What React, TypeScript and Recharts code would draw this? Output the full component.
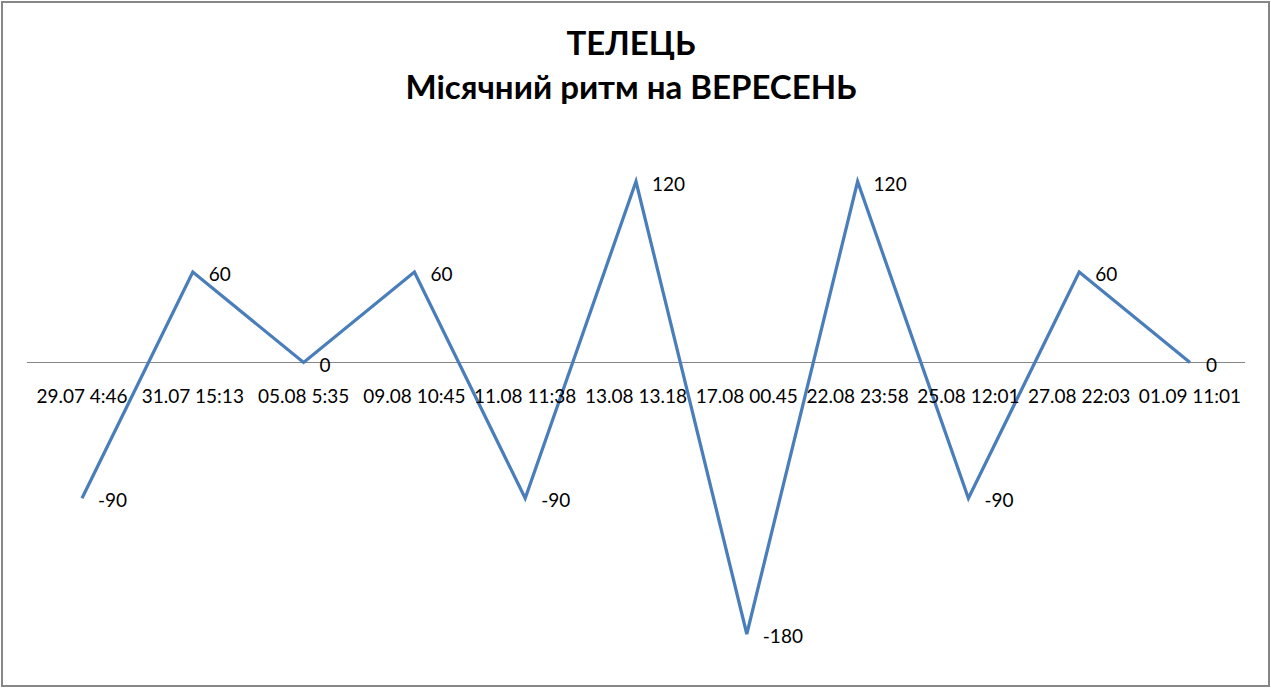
import React from "react";
import { LineChart, Line, XAxis, YAxis, ReferenceLine, LabelList } from "recharts";

const dates = [
  "29.07 4:46",
  "31.07 15:13",
  "05.08 5:35",
  "09.08 10:45",
  "11.08 11:38",
  "13.08 13.18",
  "17.08 00.45",
  "22.08 23:58",
  "25.08 12:01",
  "27.08 22:03",
  "01.09 11:01",
];
const rhythm = [-90, 60, 0, 60, -90, 120, -180, 120, -90, 60, 0];

const titleLines = ["ТЕЛЕЦЬ", "Місячний ритм на ВЕРЕСЕНЬ"];

const Y_MIN = -180;
const Y_MAX = 180;

const data = dates.map((date, i) => ({ date, value: rhythm[i] }));

const CHART_W = 1265;
const CHART_H = 682;
const X_AXIS_H = 30;
const margin = { top: 88, right: 23, bottom: 21, left: 24 };
const plotH = CHART_H - margin.top - margin.bottom - X_AXIS_H;
const zeroY = margin.top + (plotH * Y_MAX) / (Y_MAX - Y_MIN);

const FONT = "Lato, 'Open Sans', sans-serif";

function ZeroTick(props: any) {
  const { x, payload } = props;
  return (
    <text
      x={x}
      y={zeroY + 40}
      textAnchor="middle"
      fontSize={19}
      fontFamily={FONT}
      fill="#000"
    >
      {payload.value}
    </text>
  );
}

function PointLabel(props: any) {
  const { x, y, value } = props;
  return (
    <text x={x + 16} y={y + 9} fontSize={19} fontFamily={FONT} fill="#000">
      {value}
    </text>
  );
}

export default function App() {
  return (
    <div
      style={{
        position: "absolute",
        left: 1,
        top: 1,
        width: 1269,
        height: 686,
        boxSizing: "border-box",
        border: "2px solid #868686",
        background: "#fff",
      }}
    >
      <div
        style={{
          position: "absolute",
          left: 0,
          top: 17,
          width: 1256,
          textAlign: "center",
          fontFamily: FONT,
          fontWeight: 700,
          fontSize: 33,
          lineHeight: "44px",
          color: "#000",
        }}
      >
        {titleLines.map((t) => (
          <div key={t}>{t}</div>
        ))}
      </div>
      <LineChart width={CHART_W} height={CHART_H} data={data} margin={margin}>
        <XAxis
          dataKey="date"
          padding={{ left: 55, right: 55 }}
          axisLine={false}
          tickLine={false}
          height={X_AXIS_H}
          interval={0}
          tick={<ZeroTick />}
        />
        <YAxis hide domain={[Y_MIN, Y_MAX]} />
        <ReferenceLine y={0} stroke="#868686" strokeWidth={1} />
        <Line
          type="linear"
          dataKey="value"
          stroke="#4A7EBB"
          strokeWidth={3.25}
          dot={false}
          isAnimationActive={false}
        >
          <LabelList dataKey="value" content={<PointLabel />} />
        </Line>
      </LineChart>
    </div>
  );
}
